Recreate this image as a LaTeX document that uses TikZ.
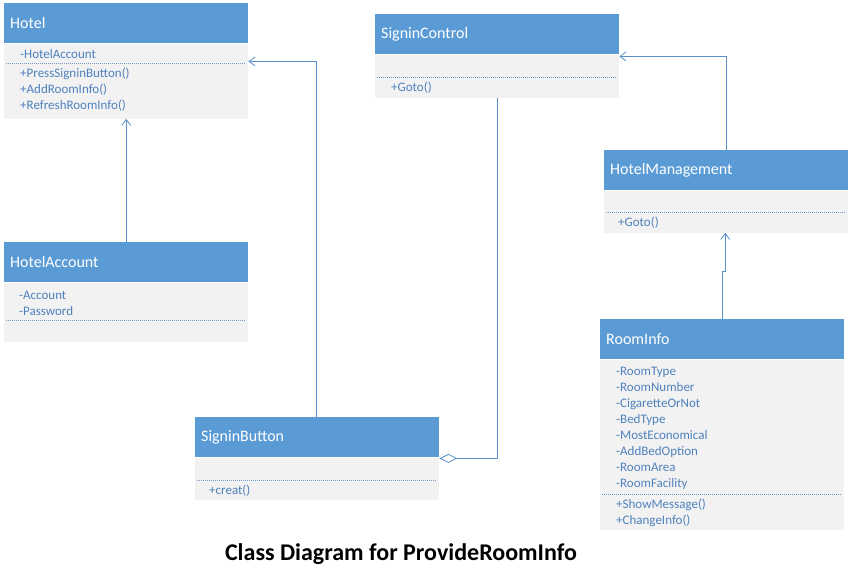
\documentclass[tikz,border=0pt]{standalone}
\usepackage{fontspec}
\setmainfont{Carlito}
\usetikzlibrary{arrows.meta}
\definecolor{head-blue}{HTML}{5B9BD5}
\definecolor{body-gray}{HTML}{F2F2F2}
\definecolor{member-blue}{HTML}{4F81BD}
\definecolor{link-blue}{HTML}{5A8FC8}

\begin{document}
\begin{tikzpicture}[x=1pt, y=-1pt,
    clshead/.style={fill=head-blue, text=white, anchor=north west, inner xsep=6pt,
      minimum width=244pt, minimum height=40pt, text width=232pt, align=left,
      font=\fontsize{16}{18}\selectfont},
    clsbody/.style={fill=body-gray, anchor=north west, minimum width=244pt, inner sep=0pt},
    member/.style={anchor=west, inner sep=0pt, align=left, text=member-blue,
      font=\fontsize{13}{16}\selectfont},
    sep/.style={member-blue!80, dash pattern=on 1pt off 1pt, line width=0.6pt},
    gen/.style={link-blue, line width=0.8pt, -{Straight Barb[length=6pt, width=9pt]}},
    aggr/.style={link-blue, line width=0.8pt, -{Diamond[open, fill=white, length=18pt, width=9pt]}}]
  \useasboundingbox (0,0) rectangle (850,581);

  % Hotel
  \node[clshead] (hotel) at (4,3) {Hotel};
  \node[clsbody, minimum height=75pt] (hotelbody) at (hotel.south west) {};
  \node[member] (hotelattr) at (20,54) {-HotelAccount};
  \draw[sep] (6,63) -- (246,63);
  \node[member] (hotelops) at (20,90) {+PressSigninButton()\\+AddRoomInfo()\\+RefreshRoomInfo()};

  % SigninControl
  \node[clshead] (ctrl) at (375,14) {SigninControl};
  \node[clsbody, minimum height=43pt] (ctrlbody) at (ctrl.south west) {};
  \draw[sep] (377,77) -- (617,77);
  \node[member] (ctrlops) at (391,88) {+Goto()};

  % HotelManagement
  \node[clshead] (mgmt) at (604,150) {HotelManagement};
  \node[clsbody, minimum height=42pt] (mgmtbody) at (mgmt.south west) {};
  \draw[sep] (606,212) -- (846,212);
  \node[member] (mgmtops) at (618,223) {+Goto()};

  % HotelAccount
  \node[clshead] (acct) at (4,242) {HotelAccount};
  \node[clsbody, minimum height=59pt] (acctbody) at (acct.south west) {};
  \node[member] (acctattr) at (19,303) {-Account\\-Password};
  \draw[sep] (6,320) -- (246,320);

  % SigninButton
  \node[clshead] (btn) at (195,417) {SigninButton};
  \node[clsbody, minimum height=42pt] (btnbody) at (btn.south west) {};
  \draw[sep] (197,480) -- (437,480);
  \node[member] (btnops) at (209,491) {+creat()};

  % RoomInfo
  \node[clshead] (room) at (600,319) {RoomInfo};
  \node[clsbody, minimum height=170pt] (roombody) at (room.south west) {};
  \node[member] (roomattr) at (616,428) {-RoomType\\-RoomNumber\\-CigaretteOrNot\\-BedType\\-MostEconomical\\-AddBedOption\\-RoomArea\\-RoomFacility};
  \draw[sep] (602,494) -- (842,494);
  \node[member] (roomops) at (616,513) {+ShowMessage()\\+ChangeInfo()};

  % links
  \draw[gen] ([xshift=121pt]btn.north west) |- ([yshift=-18pt]hotelbody.north east);
  \draw[gen] (acct.north) -- (hotelbody.south);
  \draw[aggr] (ctrlbody.south) |- ([yshift=-1pt]btnbody.north east);
  \draw[gen] (mgmt.north) |- ([yshift=-2pt]ctrlbody.north east);
  \draw[gen] (room.north) -- ++(0,-48) -- ++(3,0) -- ([xshift=-1pt]mgmtbody.south);

  \node[font=\fontsize{24}{28}\selectfont\bfseries] (title) at (401,554) {Class Diagram for ProvideRoomInfo};
\end{tikzpicture}
\end{document}
